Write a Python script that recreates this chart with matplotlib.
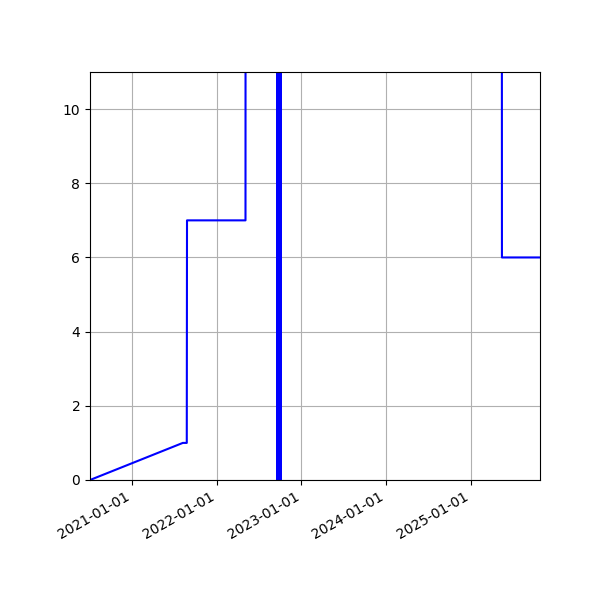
import pandas as pd
import matplotlib
matplotlib.use('Agg')
import matplotlib.pyplot as plt
import matplotlib.dates as mdates

# readings before the burst
early_dates = ['2020-07-04', '2021-08-08', '2021-08-25', '2021-08-26',
               '2022-05-05', '2022-05-06']
early_values = [0, 1, 1, 7, 7, 30]

# burst of swinging readings in Sep/Oct 2022
burst_dates = ['2022-09-18', '2022-09-19', '2022-09-20', '2022-09-21',
               '2022-09-22', '2022-09-23', '2022-09-24', '2022-09-25',
               '2022-09-26', '2022-09-27', '2022-09-28', '2022-09-29',
               '2022-09-30', '2022-10-01', '2022-10-02', '2022-10-03',
               '2022-10-04', '2022-10-05']
burst_values = [30, -20, 30, -20, 30, -20, 30, -20, 30, -20, 30,
                -20, 30, -20, 30, -20, 30, 30]

# readings after the burst
late_dates = ['2025-05-13', '2025-05-14', '2025-10-25']
late_values = [30, 6, 6]

dates = pd.to_datetime(early_dates + burst_dates + late_dates)
values = early_values + burst_values + late_values

fig, ax = plt.subplots(figsize=(6, 6), dpi=100)

ax.plot(dates, values, color='blue', linewidth=1.5)
ax.set_ylim(0, 11)
ax.set_xlim(dates[0], dates[-1])
ax.xaxis.set_major_locator(mdates.YearLocator())
ax.xaxis.set_major_formatter(mdates.DateFormatter('%Y-%m-%d'))
ax.grid(True)
fig.autofmt_xdate()
fig.subplots_adjust(left=0.15, right=0.9, top=0.88, bottom=0.2)

plt.savefig('out.png')
